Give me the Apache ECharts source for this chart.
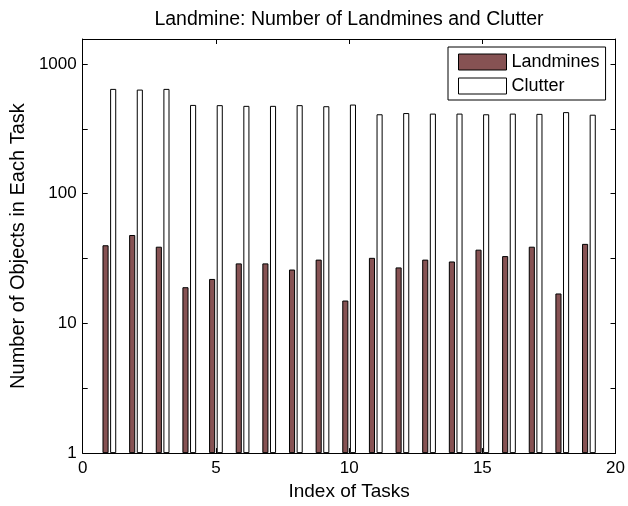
<!DOCTYPE html>
<html><head><meta charset="utf-8">
<script src="https://cdn.jsdelivr.net/npm/echarts@6/dist/echarts.min.js"></script>
<style>html,body{margin:0;padding:0;background:#fff}#c{width:628px;height:506px}</style>
</head><body><div id="c"></div><script>
const tasks = [1,2,3,4,5,6,7,8,9,10,11,12,13,14,15,16,17,18,19];
const landmines = [40,48,39,19,22,29,29,26,31,15,32,27,31,30,37,33,39,17,41];
const clutter = [642,634,642,483,481,475,475,481,472,486,409,418,414,414,409,414,412,425,406];
const xTickValues = [0,5,10,15,20];
const yTickValues = [1,10,100,1000];
const seriesNames = ['Landmines','Clutter'];
const titleText = 'Landmine: Number of Landmines and Clutter';
const xName = 'Index of Tasks';
const yName = 'Number of Objects in Each Task';

const FONT = '"Liberation Sans", Arial, sans-serif';
const mineColor = '#865253';
const chart = echarts.init(document.getElementById('c'), null, {renderer:'canvas'});
const yLabel = v => {
  const r = Math.round(v);
  if (Math.abs(v - r) < 1e-9) { const p = Math.pow(10, r); return yTickValues.includes(p) ? String(p) : ''; }
  return '';
};
const tickStyle = {show:true, inside:true, length:5, lineStyle:{color:'#000', width:1}};
const lineStyle = {show:true, onZero:false, lineStyle:{color:'#000', width:1}};
chart.setOption({
  animation:false,
  backgroundColor:'#fff',
  graphic:[{type:'text', x:349, y:19.5, style:{text:titleText, align:'center', verticalAlign:'middle', font:'19.5px ' + FONT, fill:'#000'}}],
  grid:{left:81, right:11, top:39, bottom:45},
  legend:{
    orient:'vertical', left:448, top:47, padding:[6,6,5,10], itemGap:6,
    itemWidth:48, itemHeight:16, borderColor:'#000', borderWidth:1, backgroundColor:'#fff',
    textStyle:{fontFamily:FONT, fontSize:18, color:'#000', lineHeight:16},
    data:[
      {name:seriesNames[0], icon:'rect', itemStyle:{color:mineColor, borderColor:'#000', borderWidth:1}},
      {name:seriesNames[1], icon:'rect', itemStyle:{color:'#fff', borderColor:'#000', borderWidth:1}}
    ]
  },
  xAxis:[
    {type:'value', min:xTickValues[0], max:xTickValues[xTickValues.length-1], interval:5, position:'bottom',
     axisLine:lineStyle, axisTick:tickStyle, splitLine:{show:false},
     axisLabel:{fontFamily:FONT, fontSize:17, color:'#000', margin:7},
     name:xName, nameLocation:'middle', nameGap:19, nameTextStyle:{fontFamily:FONT, fontSize:19, color:'#000'}},
    {type:'value', min:0, max:20, interval:5, position:'top',
     axisLine:lineStyle, axisTick:tickStyle, splitLine:{show:false}, axisLabel:{show:false}}
  ],
  yAxis:[
    {type:'value', min:0, max:3.192, interval:0.5, position:'left',
     axisLine:lineStyle, axisTick:tickStyle, splitLine:{show:false},
     axisLabel:{fontFamily:FONT, fontSize:17, color:'#000', margin:6, formatter:yLabel, showMaxLabel:false},
     name:yName, nameLocation:'middle', nameGap:50, nameTextStyle:{fontFamily:FONT, fontSize:20, color:'#000'}},
    {type:'value', min:0, max:3.192, interval:0.5, position:'right',
     axisLine:lineStyle, axisTick:tickStyle, splitLine:{show:false}, axisLabel:{show:false}}
  ],
  series:[
    {name:seriesNames[0], type:'bar', barWidth:6.1, barGap:'25%',
     itemStyle:{color:mineColor, borderColor:'#000', borderWidth:1},
     data:tasks.map((t,i)=>[t, Math.log10(landmines[i])])},
    {name:seriesNames[1], type:'bar', barWidth:6.1, barGap:'25%',
     itemStyle:{color:'#fff', borderColor:'#000', borderWidth:1},
     data:tasks.map((t,i)=>[t, Math.log10(clutter[i])])}
  ]
});
</script></body></html>
